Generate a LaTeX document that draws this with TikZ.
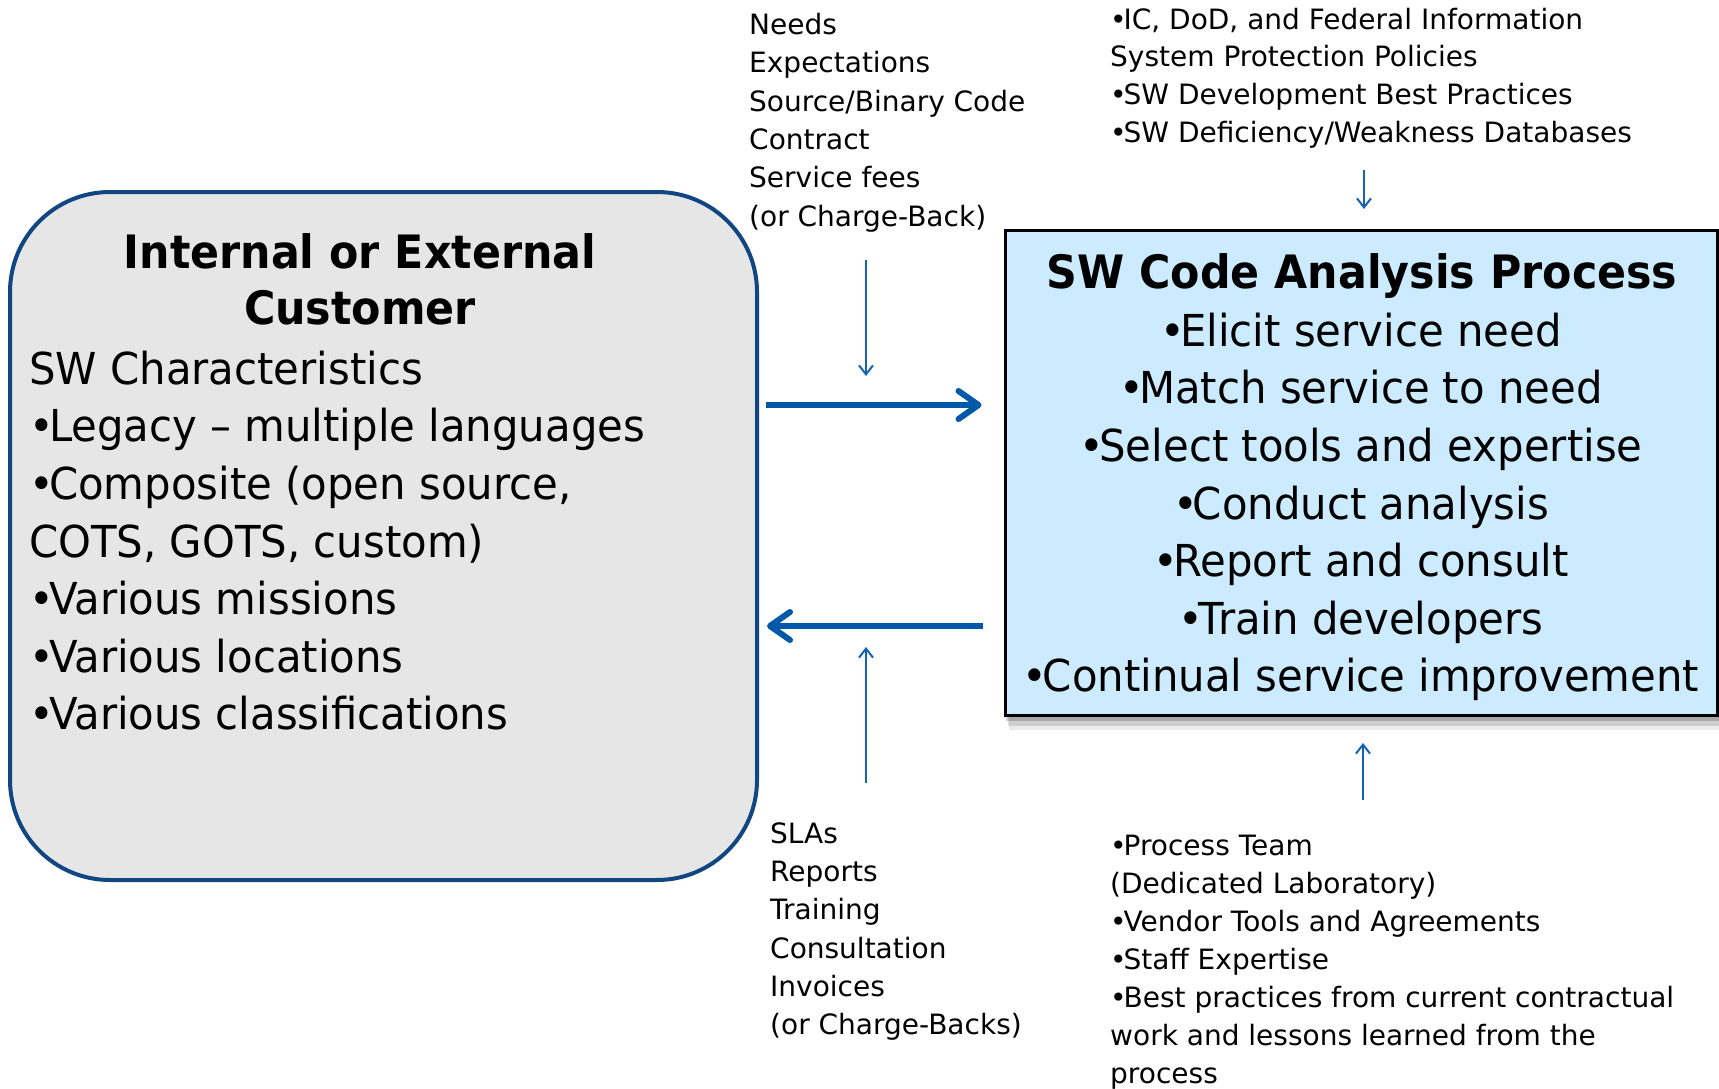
\documentclass[tikz,border=0pt]{standalone}
\usepackage{fontspec}
\setmainfont{DejaVu Sans}
\newfontfamily\labfont{DejaVu Sans}
\newfontfamily\bigfont[FakeStretch=0.93]{DejaVu Sans}
\newfontfamily\itemfont[FakeStretch=0.95]{DejaVu Sans}
\usetikzlibrary{arrows.meta}
\definecolor{custline}{HTML}{124682}
\definecolor{custfill}{HTML}{E6E6E6}
\definecolor{procfill}{HTML}{CCEBFF}
\definecolor{arrowblue}{HTML}{0058A8}
\definecolor{thinblue}{HTML}{1464B4}
\newcommand\topstrut{\rule{0pt}{0.95em}}
\newcommand\bul{•\kern-0.11em}
\tikzset{
 labeltext/.style={inner sep=0pt, anchor=north west, align=left, font=\labfont\fontsize{28}{38.3}\selectfont},
 bigitems/.style={inner sep=0pt, font=\itemfont\fontsize{44}{57.6}\selectfont},
 bigtitle/.style={inner sep=0pt, align=center, anchor=north, font=\bigfont\bfseries\fontsize{46}{56}\selectfont},
 custbox/.style={draw=custline, line width=4pt, fill=custfill, rounded corners=100pt, minimum width=747pt, minimum height=688pt, inner sep=0pt},
 procbox/.style={draw=black, line width=3pt, fill=procfill, minimum width=712pt, minimum height=485pt, inner sep=0pt},
 flowarrow/.style={draw=arrowblue, line width=6pt, -{Straight Barb[length=20pt,width=28pt,round]}},
 feedarrow/.style={draw=thinblue, line width=2pt, -{Straight Barb[length=9pt,width=14pt]}},
}
\begin{document}
\begin{tikzpicture}[x=1pt,y=-1pt]
\useasboundingbox (0,0) rectangle (1719,1089);
\fill[white] (0,0) rectangle (1719,1089);

% customer box
\node[custbox] (cust) at (383.5,536) {};
\node[bigtitle] (custtitle) at (360,225) {\topstrut Internal or External\\Customer};
\node[bigitems, anchor=north west, align=left] (custitems) at (29,342.2)
 {\topstrut SW Characteristics\\
  \bul Legacy – multiple languages\\
  \bul Composite (open source,\\
  COTS, GOTS, custom)\\
  \bul Various missions\\
  \bul Various locations\\
  \bul Various classifications};

% process box with shadow
\fill[black,opacity=0.08] (1009,237) rectangle (1723,730);
\fill[black,opacity=0.12] (1008,235) rectangle (1721,726);
\fill[black,opacity=0.18] (1006,232) rectangle (1719,721);
\node[procbox] (proc) at (1361,472.5) {};
\node[bigtitle] (proctitle) at (1362,244.3) {\topstrut SW Code Analysis Process};
\node[bigitems, anchor=north, align=center] (procitems) at (1361,304.2)
 {\topstrut \bul Elicit service need\\
  \bul Match service to need\\
  \bul Select tools and expertise\\
  \bul Conduct analysis\\
  \bul Report and consult\\
  \bul Train developers\\
  \bul Continual service improvement};

% labels
\node[labeltext] (needs) at (749,7.7)
 {\topstrut Needs\\Expectations\\Source/Binary Code\\Contract\\Service fees\\(or Charge-Back)};
\node[labeltext, font=\labfont\fontsize{28}{37.8}\selectfont] (policies) at (1110,2.4)
 {\topstrut \bul IC, DoD, and Federal Information\\System Protection Policies\\\bul SW Development Best Practices\\\bul SW Deficiency/Weakness Databases};
\node[labeltext] (slas) at (770,816.4)
 {\topstrut SLAs\\Reports\\Training\\Consultation\\Invoices\\(or Charge-Backs)};
\node[labeltext, font=\labfont\fontsize{28}{38}\selectfont] (resources) at (1110,828.4)
 {\topstrut \bul Process Team\\(Dedicated Laboratory)\\\bul Vendor Tools and Agreements\\\bul Staff Expertise\\\bul Best practices from current contractual\\work and lessons learned from the\\process};

% main flow arrows
\draw[flowarrow, shorten <=7pt, shorten >=22pt] (cust.east |- 0,405) -- (proc.west |- 0,405);
\draw[flowarrow, shorten <=21pt, shorten >=8pt] (proc.west |- 0,626) -- (cust.east |- 0,626);

% feed arrows
\coordinate (needsFrom) at (866,260);
\coordinate (needsTo) at (866,376);
\coordinate (slasFrom) at (866,783);
\coordinate (slasTo) at (866,647);
\coordinate (polFrom) at (1364,170);
\coordinate (polTo) at (1364,209);
\coordinate (resFrom) at (1363,800);
\coordinate (resTo) at (1363,743);
\draw[feedarrow] (needsFrom) -- (needsTo);
\draw[feedarrow] (slasFrom) -- (slasTo);
\draw[feedarrow] (polFrom) -- (polTo);
\draw[feedarrow] (resFrom) -- (resTo);
\end{tikzpicture}
\end{document}
